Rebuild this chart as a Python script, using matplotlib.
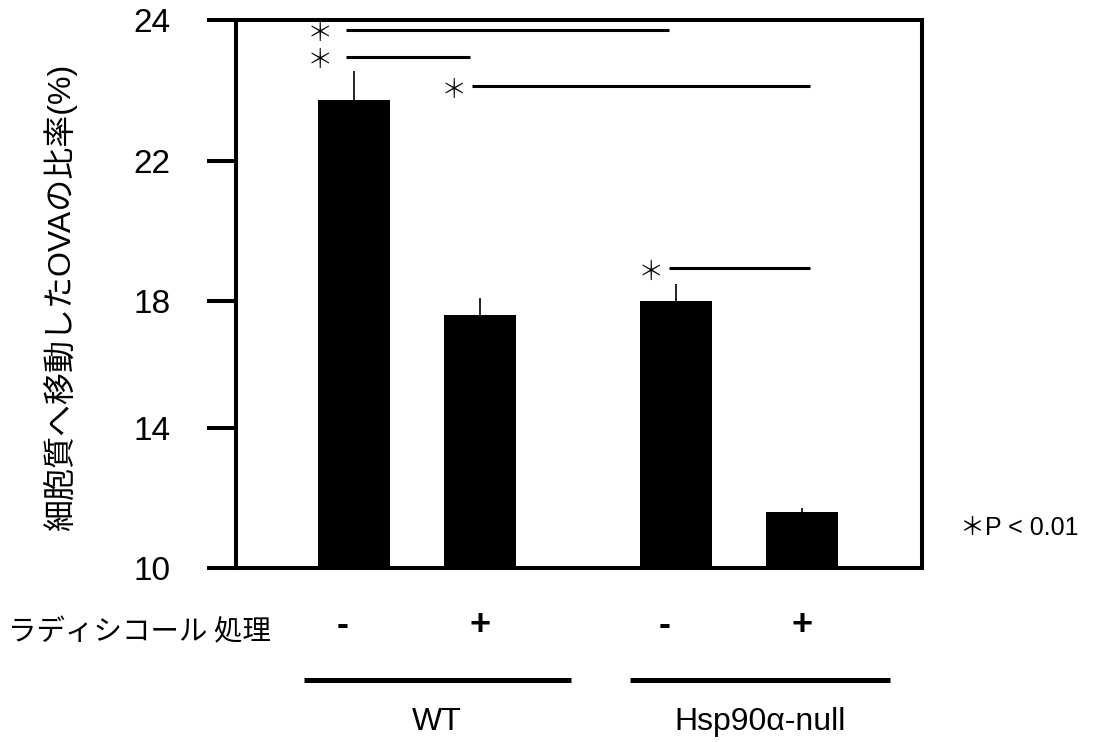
import numpy as np
import matplotlib; matplotlib.use("Agg")
import matplotlib.pyplot as plt
import matplotlib.transforms as mtransforms

plt.rcParams['font.family'] = ['Liberation Sans', 'Noto Sans CJK JP', 'DejaVu Sans']

# data
bar_x = [0, 1, 2.56, 3.56]
values = [22.87, 17.55, 18.0, 11.6]
errors = [0.4, 0.55, 0.5, 0.1]
treatment = ['-', '+', '-', '+']
groups = ['WT', 'Hsp90α-null']
group_span = [(-0.40, 1.72), (2.19, 4.26)]
yticks = [10, 14, 18, 22, 24]
# significance brackets: (x_start, x_end, y, star_x)
sig_lines = [(-0.06, 2.50, 23.86, -0.27),
             (-0.06, 0.92, 23.48, -0.27),
             (0.94, 3.62, 23.06, 0.79),
             (2.50, 3.62, 18.94, 2.36)]

# the axis in the original is not linear: ticks sit at these fractions of its height
tick_frac = [0, 0.2555, 0.487, 0.743, 1.0]
fwd = lambda v: np.interp(v, yticks, tick_frac)
inv = lambda f: np.interp(f, tick_frac, yticks)

fig = plt.figure(figsize=(11, 7.42), dpi=100)
ax = fig.add_axes([0.2145, 0.2345, 0.6236, 0.7385])
ax.set_yscale('function', functions=(fwd, inv))
ax.set_ylim(10, 24)
ax.set_xlim(-0.937, 4.51)

ax.bar(bar_x, [v - 10 for v in values], bottom=10, width=0.57, color='black', zorder=2)
ax.errorbar(bar_x, values, yerr=[[0] * 4, errors], fmt='none', ecolor='black',
            elinewidth=1.2, capsize=0, zorder=1)

for x0, x1, y, sx in sig_lines:
    ax.plot([x0, x1], [y, y], color='black', lw=2.2, solid_capstyle='butt')
    ax.annotate('＊', (sx, y), xytext=(0, -2.5), textcoords='offset points',
                ha='center', va='center', fontsize=19,
                family=['Noto Sans CJK JP'], fontweight='light')

ax.set_yticks(yticks)
ax.set_yticklabels([str(t) for t in yticks], fontsize=24)
ax.yaxis.set_minor_locator(plt.NullLocator())
ax.tick_params(axis='y', direction='out', length=21, width=2.9, pad=26)
ax.set_xticks([])
for s in ax.spines.values():
    s.set_linewidth(2.9)

trans = mtransforms.blended_transform_factory(ax.transData, ax.transAxes)
for x, t in zip(bar_x, treatment):
    ax.text(x - (0.09 if t == '-' else 0), -0.105, t, transform=trans, ha='center', va='center',
            fontsize=26, fontweight='bold', clip_on=False)
for (x0, x1), g in zip(group_span, groups):
    ax.plot([x0, x1], [-0.204, -0.204], transform=trans, color='black', lw=3.6,
            clip_on=False, solid_capstyle='butt')
    ax.text((x0 + x1) / 2, -0.281, g, transform=trans, ha='center', va='center',
            fontsize=23, clip_on=False)

fig.text(0.127, 1 - 632 / 742, 'ラディシコール 処理', ha='center', va='center', fontsize=20.5,
         family=['Noto Sans CJK JP'])
fig.text(0.055, 1 - 297 / 742, '細胞質へ移動したOVAの比率(%)', rotation=90, ha='center',
         va='center', fontsize=23, family=['Liberation Sans', 'Noto Sans CJK JP'])
fig.text(0.9265, 1 - 528 / 742, '＊P < 0.01', ha='center', va='center', fontsize=18,
         family=['Liberation Sans', 'Noto Sans CJK JP'])

fig.savefig('out.png', dpi=100)
